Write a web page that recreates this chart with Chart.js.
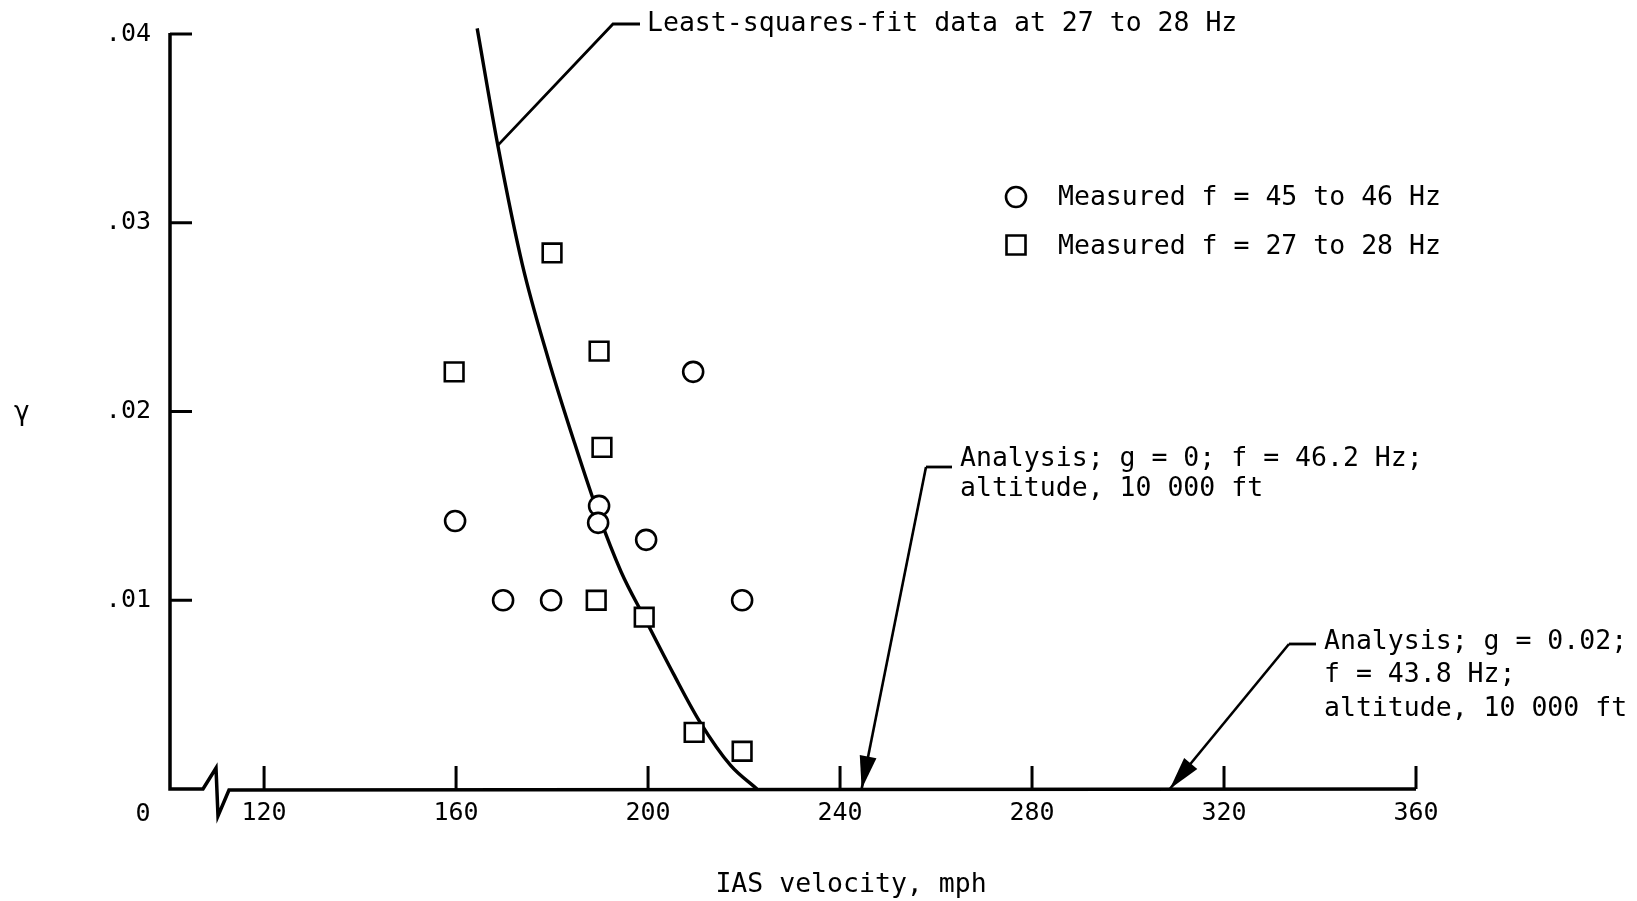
<!DOCTYPE html>
<html>
<head>
<meta charset="utf-8">
<title>Damping vs IAS velocity</title>
<script src="https://cdn.jsdelivr.net/npm/chart.js@4.4.1/dist/chart.umd.min.js"></script>
<style>
  html, body { margin: 0; padding: 0; background: #fff; }
  #wrap { width: 1637px; height: 901px; }
</style>
</head>
<body>
<div id="wrap"><canvas id="dampingChart" width="1637" height="901"></canvas></div>
<script>
// measured, f = 45 to 46 Hz (circles)
const circleV = [159.8, 169.8, 179.8, 189.8, 189.6, 199.6, 209.4, 219.6];
const circleG = [0.0142, 0.0100, 0.0100, 0.0150, 0.0141, 0.0132, 0.0221, 0.0100];

// measured, f = 27 to 28 Hz (squares)
const squareV = [159.6, 180.0, 189.8, 190.4, 189.2, 199.2, 209.6, 219.6];
const squareG = [0.0221, 0.0284, 0.0232, 0.0181, 0.0100, 0.0091, 0.0030, 0.0020];

// least-squares fit at 27 to 28 Hz
const fitV = [164.4, 168.7, 173.8, 179.2, 184.6, 189.6, 194.4, 199.2, 205.3, 210.7, 217.2, 222.7];
const fitG = [0.0403, 0.0341, 0.0278, 0.0228, 0.0184, 0.0146, 0.0115, 0.0091, 0.0061, 0.0036, 0.00125, 0.0];

// analysis flutter speeds: g = 0 (46.2 Hz) and g = 0.02 (43.8 Hz)
const analysisV = [244.5, 308.7];

const xTicks = [120, 160, 200, 240, 280, 320, 360];
const yTicks = [0.01, 0.02, 0.03, 0.04];
const yTickLabels = [".01", ".02", ".03", ".04"];

const legendLabels = ["Measured f = 45 to 46 Hz", "Measured f = 27 to 28 Hz"];
const fitLabel = "Least-squares-fit data at 27 to 28 Hz";
const analysisLabels = [
    ["Analysis; g = 0; f = 46.2 Hz;", "altitude, 10 000 ft"],
    ["Analysis; g = 0.02;", "f = 43.8 Hz;", "altitude, 10 000 ft"]
];
const xTitle = "IAS velocity, mph";
const yTitle = "γ";

const FONT = "'DejaVu Sans Mono', 'Liberation Mono', monospace";

function toPoints(xs, ys) {
    return xs.map((x, i) => ({ x: x, y: ys[i] }));
}

function drawCircle(ctx, x, y, r) {
    ctx.beginPath();
    ctx.arc(x, y, r, 0, Math.PI * 2);
    ctx.fillStyle = "#fff";
    ctx.fill();
    ctx.stroke();
}

function drawSquare(ctx, x, y, s) {
    ctx.beginPath();
    ctx.rect(x - s / 2, y - s / 2, s, s);
    ctx.fillStyle = "#fff";
    ctx.fill();
    ctx.stroke();
}

function drawArrow(ctx, x0, y0, x1, y1) {
    ctx.beginPath();
    ctx.moveTo(x0, y0);
    ctx.lineTo(x1, y1);
    ctx.stroke();
    let a = Math.atan2(y1 - y0, x1 - x0);
    let len = 33, half = 8.5;
    let bx = x1 - len * Math.cos(a), by = y1 - len * Math.sin(a);
    ctx.beginPath();
    ctx.moveTo(x1, y1);
    ctx.lineTo(bx + half * Math.sin(a), by - half * Math.cos(a));
    ctx.lineTo(bx - half * Math.sin(a), by + half * Math.cos(a));
    ctx.closePath();
    ctx.fillStyle = "#000";
    ctx.fill();
}

// axes with the scale break, inward ticks
const paperAxes = {
    id: "paperAxes",
    beforeDatasetsDraw(chart) {
        const ctx = chart.ctx;
        const xs = chart.scales.x, ys = chart.scales.y;
        const area = chart.chartArea;
        const L = area.left, B = area.bottom;
        ctx.save();
        ctx.strokeStyle = "#000";
        ctx.lineCap = "butt";
        ctx.lineJoin = "miter";

        // y axis
        ctx.lineWidth = 3.5;
        ctx.beginPath();
        ctx.moveTo(L, ys.getPixelForValue(0.04) - 1);
        ctx.lineTo(L, B);
        // x axis with break
        ctx.lineTo(L + 33, B);
        ctx.lineTo(L + 46, B - 21);
        ctx.lineTo(L + 48, B + 27);
        ctx.lineTo(L + 59, B + 1);
        ctx.lineTo(xs.getPixelForValue(360), B);
        ctx.stroke();

        ctx.lineWidth = 3;
        xTicks.forEach(v => {
            let px = xs.getPixelForValue(v);
            ctx.beginPath();
            ctx.moveTo(px, B);
            ctx.lineTo(px, B - 23);
            ctx.stroke();
        });
        yTicks.forEach(v => {
            let py = ys.getPixelForValue(v);
            ctx.beginPath();
            ctx.moveTo(L, py);
            ctx.lineTo(L + 22, py);
            ctx.stroke();
        });
        ctx.restore();
    },
    afterDraw(chart) {
        const ctx = chart.ctx;
        const xs = chart.scales.x, ys = chart.scales.y;
        ctx.save();
        ctx.fillStyle = "#000";
        ctx.strokeStyle = "#000";
        ctx.textBaseline = "middle";

        // origin label and axis titles
        ctx.textAlign = "center";
        ctx.font = "25px " + FONT;
        ctx.fillText("0", 143, 814);
        ctx.font = "26.5px " + FONT;
        ctx.fillText(xTitle, 851, 885);
        ctx.fillText(yTitle, 22, 413);

        // legend
        ctx.lineWidth = 2.6;
        drawCircle(ctx, 1016, 197, 10);
        drawSquare(ctx, 1016, 245, 19);
        ctx.fillStyle = "#000";
        ctx.textAlign = "left";
        ctx.fillText(legendLabels[0], 1058, 198);
        ctx.fillText(legendLabels[1], 1058, 247);

        // leader to fit curve
        ctx.lineWidth = 2.8;
        ctx.beginPath();
        ctx.moveTo(xs.getPixelForValue(fitV[1]), ys.getPixelForValue(fitG[1]));
        ctx.lineTo(613, 24);
        ctx.lineTo(640, 24);
        ctx.stroke();
        ctx.fillText(fitLabel, 647, 24);

        // analysis arrows
        const stubs = [[926, 467, 952], [1289, 644, 1316]];
        const textPos = [[960, [459, 489]], [1324, [642, 675, 709]]];
        analysisV.forEach((v, i) => {
            const s = stubs[i];
            ctx.lineWidth = 2.8;
            ctx.beginPath();
            ctx.moveTo(s[2], s[1]);
            ctx.lineTo(s[0], s[1]);
            ctx.stroke();
            ctx.lineWidth = 2.6;
            drawArrow(ctx, s[0], s[1], xs.getPixelForValue(v), ys.getPixelForValue(0));
            analysisLabels[i].forEach((t, j) => {
                ctx.fillText(t, textPos[i][0], textPos[i][1][j]);
            });
        });
        ctx.restore();
    }
};

const ctx = document.getElementById("dampingChart").getContext("2d");
const dampingChart = new Chart(ctx, {
    type: "scatter",
    data: {
        datasets: [
            {
                label: legendLabels[0],
                data: toPoints(circleV, circleG),
                pointStyle: "circle",
                pointRadius: 10,
                pointBorderWidth: 2.6,
                pointBackgroundColor: "#fff",
                pointBorderColor: "#000",
                order: 1
            },
            {
                label: legendLabels[1],
                data: toPoints(squareV, squareG),
                pointStyle: "rect",
                pointRadius: 13.2,
                pointBorderWidth: 2.6,
                pointBackgroundColor: "#fff",
                pointBorderColor: "#000",
                order: 1
            },
            {
                label: fitLabel,
                data: toPoints(fitV, fitG),
                showLine: true,
                borderColor: "#000",
                borderWidth: 3.4,
                pointRadius: 0,
                cubicInterpolationMode: "monotone",
                clip: false,
                order: 3
            }
        ]
    },
    options: {
        responsive: false,
        animation: false,
        devicePixelRatio: 1,
        layout: { padding: { top: 28, right: 221, left: 0, bottom: 0 } },
        plugins: {
            legend: { display: false },
            tooltip: { enabled: false }
        },
        scales: {
            x: {
                type: "linear",
                min: 100.4,
                max: 360,
                afterBuildTicks: s => { s.ticks = xTicks.map(v => ({ value: v })); },
                afterFit: s => { s.height = 112; },
                grid: { display: false, drawTicks: false },
                border: { display: false },
                ticks: {
                    color: "#000",
                    padding: 9,
                    maxRotation: 0,
                    autoSkip: false,
                    font: { family: FONT, size: 25 }
                }
            },
            y: {
                type: "linear",
                min: 0,
                max: 0.04,
                afterBuildTicks: s => { s.ticks = yTicks.map(v => ({ value: v })); },
                afterFit: s => { s.width = 170; },
                grid: { display: false, drawTicks: false },
                border: { display: false },
                ticks: {
                    color: "#000",
                    padding: 19,
                    autoSkip: false,
                    font: { family: FONT, size: 25 },
                    callback: (v, i) => yTickLabels[i]
                }
            }
        }
    },
    plugins: [paperAxes]
});
</script>
</body>
</html>
